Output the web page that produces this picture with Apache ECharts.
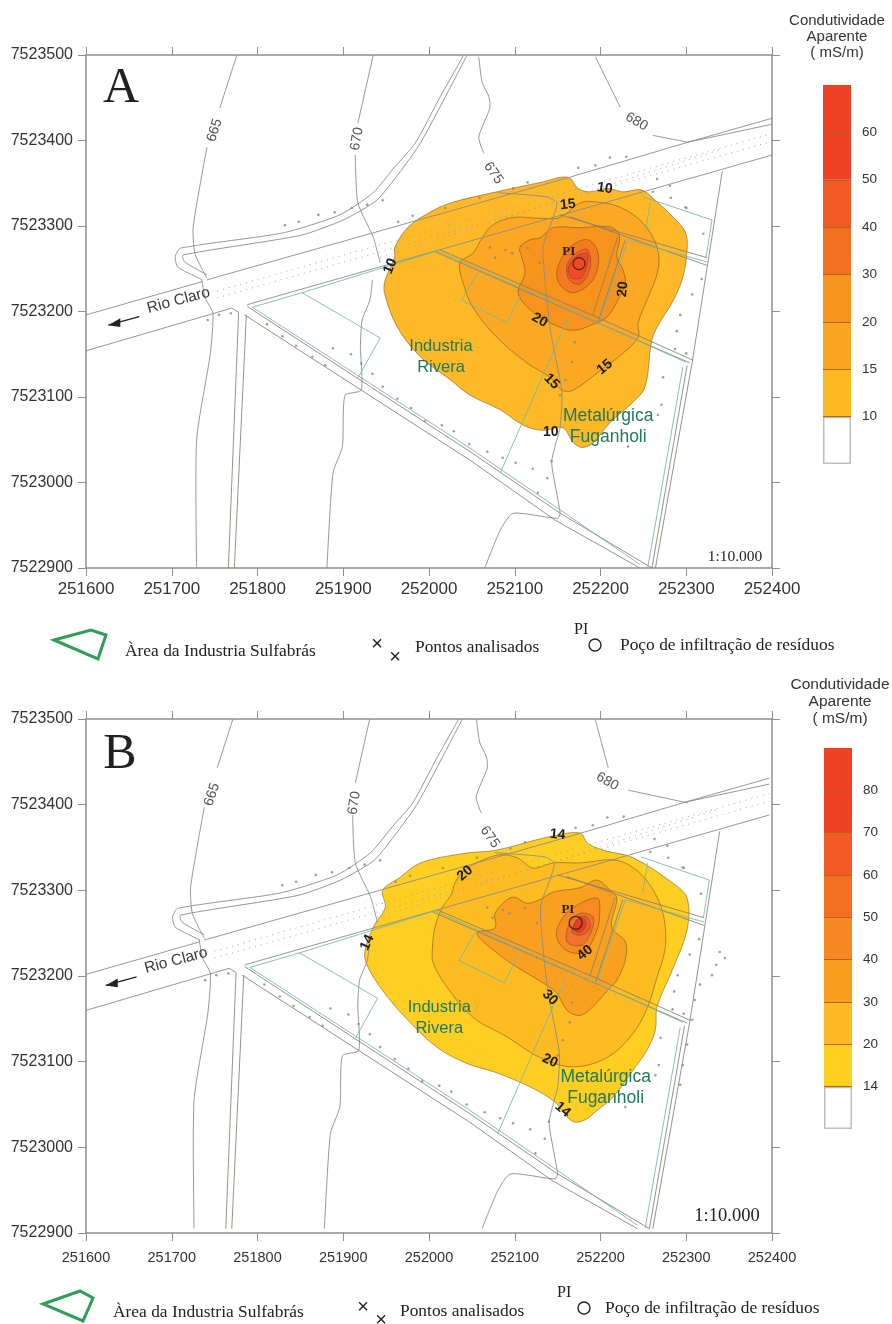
<!DOCTYPE html>
<html><head><meta charset="utf-8">
<style>html,body{margin:0;padding:0;background:#fff}#c{width:892px;height:1324px}</style>
<script src="https://cdn.jsdelivr.net/npm/echarts@6/dist/echarts.min.js"></script>
</head><body><div id="c"></div>
<script>
const xTicks={min:251600,max:252400,interval:100};
const yTicks={min:7522900,max:7523500,interval:100};

// ---- conductivity contours, panel A (UTM metres)
const a10=[[251948,7523222],[251949,7523237],[251960,7523264],[251960,7523275],[251976,7523299],[252001,7523316],[252025,7523327],[252079,7523340],[252130,7523351],[252162,7523357],[252174,7523344],[252188,7523340],[252208,7523344],[252226,7523340],[252248,7523342],[252266,7523328],[252285,7523310],[252299,7523293],[252301,7523272],[252296,7523240],[252285,7523213],[252269,7523187],[252260,7523167],[252252,7523112],[252238,7523094],[252211,7523070],[252191,7523046],[252178,7523041],[252168,7523047],[252156,7523064],[252132,7523061],[252110,7523067],[252083,7523085],[252048,7523102],[252025,7523120],[251990,7523147],[251963,7523182]];
const a15=[[252036,7523257],[252051,7523268],[252062,7523286],[252074,7523301],[252098,7523310],[252129,7523309],[252153,7523310],[252176,7523327],[252196,7523328],[252223,7523322],[252250,7523303],[252266,7523275],[252267,7523248],[252254,7523213],[252244,7523187],[252244,7523170],[252226,7523151],[252196,7523128],[252168,7523108],[252155,7523108],[252141,7523123],[252114,7523140],[252079,7523170],[252051,7523205],[252040,7523233]];
const a20=[[252106,7523275],[252118,7523284],[252129,7523286],[252145,7523298],[252176,7523298],[252211,7523299],[252222,7523289],[252219,7523264],[252226,7523249],[252229,7523233],[252220,7523213],[252208,7523194],[252196,7523187],[252168,7523178],[252141,7523187],[252118,7523202],[252104,7523222],[252112,7523245],[252108,7523264]];
const a30=[[252149,7523245],[252155,7523263],[252168,7523278],[252185,7523284],[252196,7523272],[252197,7523252],[252188,7523233],[252168,7523222],[252153,7523231]];
const a40=[[252161,7523243],[252162,7523257],[252174,7523270],[252185,7523272],[252188,7523252],[252178,7523233],[252167,7523234]];
const a50=[[252162,7523249],[252170,7523263],[252184,7523268],[252185,7523257],[252178,7523240],[252167,7523239]];

// ---- conductivity contours, panel B
const b14=[[251929,7523210],[251925,7523227],[251935,7523257],[251949,7523280],[251946,7523300],[251966,7523315],[251990,7523332],[252040,7523343],[252079,7523347],[252138,7523362],[252176,7523367],[252185,7523355],[252203,7523347],[252238,7523338],[252285,7523308],[252301,7523291],[252301,7523254],[252285,7523210],[252266,7523164],[252264,7523137],[252254,7523113],[252238,7523090],[252215,7523059],[252196,7523043],[252182,7523032],[252168,7523030],[252155,7523043],[252147,7523053],[252121,7523069],[252079,7523087],[252044,7523098],[252009,7523117],[251972,7523152],[251946,7523183]];
const b20=[[252004,7523233],[252007,7523257],[252015,7523279],[252027,7523297],[252030,7523308],[252042,7523324],[252079,7523341],[252103,7523338],[252121,7523326],[252145,7523332],[252176,7523332],[252219,7523335],[252246,7523320],[252266,7523292],[252275,7523262],[252275,7523230],[252266,7523199],[252255,7523164],[252238,7523133],[252208,7523105],[252168,7523094],[252129,7523105],[252091,7523129],[252051,7523152],[252021,7523187],[252005,7523215]];
const b30=[[252056,7523250],[252077,7523256],[252077,7523273],[252091,7523289],[252100,7523292],[252114,7523285],[252129,7523289],[252145,7523298],[252176,7523303],[252196,7523312],[252211,7523300],[252219,7523291],[252213,7523257],[252229,7523240],[252229,7523219],[252219,7523195],[252208,7523183],[252191,7523164],[252176,7523154],[252161,7523160],[252149,7523180],[252133,7523192],[252103,7523210],[252079,7523227]];
const b40=[[252149,7523245],[252150,7523257],[252164,7523277],[252196,7523291],[252199,7523273],[252196,7523254],[252182,7523228],[252168,7523227],[252156,7523233]];
const b50=[[252161,7523240],[252164,7523262],[252176,7523273],[252191,7523269],[252190,7523254],[252178,7523236]];
const b60=[[252167,7523251],[252174,7523268],[252184,7523269],[252188,7523257],[252178,7523248]];
const b70=[[252168,7523257],[252176,7523268],[252182,7523265],[252182,7523256],[252174,7523251]];

// ---- base map: topographic lines
const topo665=[[[251776,7523500],[251756,7523438]],[[251741,7523392],[251725,7523299],[251727,7523268],[251741,7523239]],[[251735,7523237],[251739,7523216],[251748,7523198],[251745,7523151],[251729,7523050],[251729,7522900]]];
const topo670=[[[251935,7523500],[251917,7523420]],[[251914,7523383],[251917,7523327],[251935,7523287],[251943,7523257]],[[251934,7523237],[251931,7523213],[251922,7523190],[251920,7523159],[251921,7523108],[251902,7523102],[251899,7523042],[251888,7523011],[251881,7522900]]];
const topo675=[[[252058,7523498],[252062,7523468],[252070,7523451],[252071,7523438],[252058,7523404],[252064,7523385]],[[252079,7523339],[252138,7523334],[252149,7523327],[252145,7523310],[252133,7523275],[252141,7523182],[252155,7523105],[252153,7523065],[252148,7523046],[252143,7523023],[252153,7522964],[252150,7522958],[252098,7522964],[252083,7522944],[252065,7522900]]];
const topo680A=[[[252194,7523498],[252223,7523439]],[[252261,7523406],[252302,7523398]]];
const topo680B=[[[252194,7523499],[252209,7523443]],[[252232,7523417],[252302,7523402]]];
// ---- base map: roads and river
const roadOuter=[[252040,7523499],[252013,7523451],[251984,7523397],[251960,7523369],[251935,7523339],[251896,7523313],[251830,7523292],[251710,7523274],[251704,7523264],[251707,7523252],[251736,7523237]];
const roadInner=[[252044,7523499],[252019,7523451],[251990,7523397],[251966,7523363],[251939,7523330],[251900,7523307],[251850,7523289],[251713,7523266],[251715,7523258],[251741,7523243]];
const riverBanks=[[[251600,7523196],[251736,7523235]],[[251741,7523237],[252164,7523357],[252302,7523398],[252400,7523426]],[[252302,7523398],[252400,7523419]],[[251600,7523154],[251770,7523204]],[[251788,7523208],[252400,7523383]]];
const streets=[[[251770,7523204],[251778,7523199],[251766,7522900]],[[251787,7523196],[251773,7522900]],[[251788,7523206],[252048,7523036],[252153,7522964],[252260,7522900]],[[251785,7523196],[252048,7523026],[252147,7522956],[252246,7522900]],[[252307,7523141],[252264,7522900]],[[252301,7523137],[252260,7522900]],[[252342,7523364],[252307,7523141]],[[252013,7523272],[252190,7523196],[252308,7523143]],[[252007,7523270],[252196,7523187],[252304,7523140]],[[252153,7523313],[252324,7523263]],[[252164,7523311],[252324,7523254]],[[252220,7523287],[252191,7523196]],[[252229,7523284],[252197,7523187]]];
const canalDots=[[[251753,7523224],[252400,7523408]],[[251753,7523216],[252400,7523399]],[[251943,7523263],[252339,7523389]]];
const lots=[[[252250,7523334],[252330,7523307],[252323,7523263]],[[252258,7523327],[252252,7523292]],[[252057,7523246],[252038,7523213],[252091,7523187],[252106,7523218]],[[252162,7523192],[252083,7523011]],[[251794,7523205],[251852,7523222],[251943,7523169],[251917,7523122]],[[251794,7523205],[252048,7523040],[252246,7522904]],[[252296,7523135],[252255,7522900]],[[252010,7523271],[252299,7523141]],[[252232,7523284],[252199,7523190]],[[252232,7523284],[252324,7523258]],[[251852,7523222],[252010,7523271]]];
const arrowShaft=[[251626,7523184],[251662,7523194]];
const arrowHead=[[251626,7523184],[251640,7523192],[251640,7523182]];

// ---- analysed points
const pontos=[[251832,7523301],[251848,7523305],[251871,7523313],[251890,7523316],[251910,7523321],[251928,7523325],[251946,7523330],[252174,7523368],[252194,7523371],[252211,7523380],[252230,7523381],[251964,7523305],[251981,7523312],[252019,7523321],[252059,7523333],[252098,7523344],[252115,7523351],[252261,7523340],[252281,7523347],[252282,7523333],[252300,7523321],[252266,7523355],[251742,7523190],[251755,7523196],[251769,7523198],[251811,7523185],[251829,7523171],[251845,7523160],[251864,7523147],[251879,7523137],[251888,7523157],[251909,7523150],[251921,7523139],[251934,7523127],[251946,7523112],[251963,7523098],[251979,7523087],[251995,7523072],[252015,7523067],[252029,7523060],[252047,7523045],[252068,7523036],[252086,7523029],[252101,7523023],[252121,7523016],[252138,7523005],[252127,7522988],[252143,7523025],[252273,7523123],[252271,7523091],[252267,7523079],[252232,7523042],[252299,7523322],[252320,7523291],[252318,7523238],[252307,7523220],[252293,7523196],[252289,7523177],[252287,7523156],[252300,7523151],[252115,7523274],[252071,7523275],[252089,7523272],[252097,7523268],[252077,7523263],[252129,7523257],[252170,7523164],[252167,7523141],[252159,7523120],[252153,7523102]];
const pontosExtraB=[[252339,7523228],[252345,7523221],[252335,7523213],[252330,7523201],[252316,7523190],[252310,7523172],[252307,7523149],[252301,7523120],[252296,7523096],[252293,7523073]];
const pocoA=[252175,7523256];
const pocoB=[252171,7523262];

// ---- labels anchored in map coordinates: x, y, text, angle
const mapLabelsA=[[251750,7523412,'665',72],[251916,7523402,'670',80],[252075,7523362,'675',-55],[252242,7523422,'680',-30]];
const mapLabelsB=[[251747,7523412,'665',72],[251913,7523402,'670',80],[252071,7523362,'675',-55],[252208,7523427,'680',-30]];
const condLabelsA=[[251955,7523253,'10',68],[252205,7523344,'10',-8],[252162,7523325,'15',6],[252226,7523226,'20',85],[252129,7523190,'20',-30],[252143,7523118,'15',-45],[252205,7523135,'15',40],[252142,7523059,'10',0]];
const condLabelsB=[[252150,7523365,'14',-5],[252042,7523320,'20',40],[251928,7523239,'14',65],[252182,7523227,'40',40],[252141,7523175,'30',-45],[252141,7523101,'20',-25],[252156,7523044,'14',-40]];
const placesA=[[252014,7523147,'Industria\nRivera'],[252209,7523065,'Metalúrgica\nFuganholi']];
const placesB=[[252012,7523151,'Industria\nRivera'],[252206,7523070,'Metalúrgica\nFuganholi']];
const piLabelA=[252163,7523270,'PI'];
const piLabelB=[252162,7523277,'PI'];
const rioLabelA=[251708,7523213,'Rio Claro',15];

// ---- colour scales
const colorsA=['#FDB927','#FBA925','#F7941E','#F47A22','#F1602A','#EE4A26'];
const colorsB=['#FFCE23','#FDBC22','#F9A021','#F68B21','#F2722A','#EE5A2A','#E63E25'];
const scaleTicksA=['10','15','20','30','40','50','60'];
const scaleTicksB=['14','20','30','40','50','60','70','80'];
const scaleBandsA=['#ffffff','#FDBA20','#FBA621','#F7941E','#F37021','#F15A24','#EF4123','#EF4123'];
const scaleBandsB=['#ffffff','#FFD020','#FDB924','#F99D1E','#F68821','#F37021','#F15A24','#EF4123','#EF4123'];

const MAP_SHIFT_B=[-3,5];
const shift=(pts)=>pts.map(p=>[p[0]+MAP_SHIFT_B[0],p[1]+MAP_SHIFT_B[1]]);
const shiftAll=(ls)=>ls.map(shift);

const GREY='#8c8c8c', TEAL='#6fb8a6', SANS='"Liberation Sans",Arial,sans-serif', SERIF='"Liberation Serif","Times New Roman",serif';

function polyFill(name,idx,shapes,colors){
  return {type:'custom',name,xAxisIndex:idx.x,yAxisIndex:idx.y,silent:true,clip:true,animation:false,
    data:shapes.map((_,i)=>[i]),
    renderItem(params,api){
      const i=params.dataIndex;
      return {type:'polygon',shape:{points:shapes[i].map(p=>api.coord(p)),smooth:0.35},
        style:{fill:colors[i],stroke:'rgba(105,70,25,0.5)',lineWidth:1}};
    }};
}
function polyLines(name,idx,lines,style,smooth){
  return {type:'custom',name,xAxisIndex:idx.x,yAxisIndex:idx.y,silent:true,clip:true,animation:false,
    data:lines.map((_,i)=>[i]),
    renderItem(params,api){
      return {type:'polyline',shape:{points:lines[params.dataIndex].map(p=>api.coord(p)),smooth:smooth||0},
        style:Object.assign({fill:null},style)};
    }};
}
function textLabels(name,idx,rows,font,color,lineHeight){
  return {type:'custom',name,xAxisIndex:idx.x,yAxisIndex:idx.y,silent:true,clip:false,animation:false,
    data:rows.map((_,i)=>[i]),
    renderItem(params,api){
      const r=rows[params.dataIndex], c=api.coord([r[0],r[1]]);
      return {type:'text',x:c[0],y:c[1],rotation:(r[3]||0)*Math.PI/180,
        style:{text:r[2],font:typeof font==='function'?font(r):font,fill:color,align:'center',verticalAlign:'middle',lineHeight:lineHeight||undefined}};
    }};
}
function panelSeries(k){
  const isA=k===0, idx={x:k*2,y:k*2};
  const m=isA?(l=>l):shiftAll;
  const s=[];
  s.push(polyFill('cond',idx,isA?[a10,a15,a20,a30,a40,a50]:[b14,b20,b30,b40,b50,b60,b70],isA?colorsA:colorsB));
  const thin={stroke:GREY,lineWidth:1,opacity:0.9};
  s.push(polyLines('topo',idx,m([...topo665,...topo670,...topo675]),thin,0.2));
  s.push(polyLines('topo680',idx,isA?topo680A:topo680B,thin,0.2));
  s.push(polyLines('roads',idx,m([roadOuter,roadInner]),thin,0.2));
  s.push(polyLines('river',idx,m(riverBanks),thin));
  s.push(polyLines('streets',idx,m(streets),{stroke:'#857f70',lineWidth:1,opacity:0.85}));
  s.push(polyLines('lots',idx,m(lots),{stroke:TEAL,lineWidth:1,opacity:0.85}));
  s.push(polyLines('canal',idx,m(canalDots),{stroke:'#a4a4a4',lineWidth:1,lineDash:[1,5]}));
  s.push(polyLines('arrow',idx,m([arrowShaft]),{stroke:'#222',lineWidth:1.3}));
  s.push({type:'custom',name:'arrowHead',xAxisIndex:idx.x,yAxisIndex:idx.y,silent:true,animation:false,data:[[0]],
    renderItem(p,api){return {type:'polygon',shape:{points:(isA?arrowHead:shift(arrowHead)).map(q=>api.coord(q))},style:{fill:'#222'}};}});
  s.push({type:'scatter',name:'Pontos analisados',xAxisIndex:idx.x,yAxisIndex:idx.y,silent:true,animation:false,symbolSize:2.6,
    itemStyle:{color:'#8a8a80'},data:isA?pontos:shift(pontos).concat(pontosExtraB)});
  s.push({type:'scatter',name:'Poço',xAxisIndex:idx.x,yAxisIndex:idx.y,silent:true,animation:false,symbolSize:isA?12:13,
    itemStyle:{color:'rgba(0,0,0,0)',borderColor:'#2a1a10',borderWidth:1.3},data:[isA?pocoA:pocoB]});
  const rio=isA?rioLabelA:[rioLabelA[0]-3,rioLabelA[1]+5,rioLabelA[2],rioLabelA[3]];
  s.push(textLabels('rio',idx,[rio],'15.5px '+SANS,'#3a3a3a'));
  s.push(textLabels('topoLabels',idx,isA?mapLabelsA:mapLabelsB,'14px '+SANS,'#555'));
  s.push(textLabels('condLabels',idx,isA?condLabelsA:condLabelsB,'bold 14px '+SANS,'#1c1c1c'));
  s.push(textLabels('places',idx,isA?placesA:placesB,r=>(r[2].startsWith('Metal')?'17.5px ':'16.5px ')+SANS,'#1d7a5d',21));
  s.push(textLabels('pi',idx,[isA?piLabelA:piLabelB],'bold 13px '+SERIF,'#2a1a10'));
  return s;
}
function mapAxes(k,fontX,fontY,marginX,marginY){
  const sharedLine={lineStyle:{color:'#8f8f8f',width:1.5}};
  const tick={show:true,length:8,lineStyle:{color:'#8f8f8f',width:1}};
  const x=Object.assign({gridIndex:k,type:'value',splitLine:{show:false},axisLine:Object.assign({onZero:false},sharedLine),axisTick:tick},xTicks);
  const y=Object.assign({gridIndex:k,type:'value',splitLine:{show:false},axisLine:Object.assign({onZero:false},sharedLine),axisTick:tick},yTicks);
  return {
    xAxis:[Object.assign({},x,{position:'bottom',axisLabel:{show:true,color:'#333',fontFamily:SANS,fontSize:fontX,margin:marginX,formatter:v=>String(v)}}),
           Object.assign({},x,{position:'top',axisLabel:{show:false}})],
    yAxis:[Object.assign({},y,{position:'left',axisLabel:{show:true,color:'#333',fontFamily:SANS,fontSize:fontY,margin:marginY,formatter:v=>String(v)}}),
           Object.assign({},y,{position:'right',axisLabel:{show:false}})]
  };
}
const A=mapAxes(0,17,16,13,13), B=mapAxes(1,14.5,16,17,13);
const grids=[
  {left:86,width:686,top:55,height:513},
  {left:86,width:686,top:719,height:514},
  {left:823,width:28,top:85,height:379},
  {left:824,width:28,top:748,height:381}
];
function scaleAxes(k,ticks){
  const n=ticks.length+1, vals=ticks.map((_,i)=>i+1);
  return {
    x:{gridIndex:k,type:'category',data:['escala'],show:false},
    y:{gridIndex:k,type:'value',min:0,max:n,interval:1,position:'right',z:6,splitLine:{show:false},axisLine:{show:false},
       axisTick:{show:true,inside:true,length:28,customValues:vals,lineStyle:{color:'#b5621c',width:1}},
       axisLabel:{show:true,customValues:vals,margin:11,color:'#333',fontFamily:SANS,fontSize:13.5,formatter:v=>ticks[Math.round(v)-1]}}
  };
}
const sA=scaleAxes(2,scaleTicksA), sB=scaleAxes(3,scaleTicksB);
const xAxes=[A.xAxis[0],A.xAxis[1],B.xAxis[0],B.xAxis[1],sA.x,sB.x];
const yAxes=[A.yAxis[0],A.yAxis[1],B.yAxis[0],B.yAxis[1],sA.y,sB.y];
function scaleSeriesAt(axisIdx,bands){
  return bands.map((c,i)=>({type:'bar',name:'faixa'+axisIdx+i,stack:'s'+axisIdx,xAxisIndex:axisIdx,yAxisIndex:axisIdx,silent:true,animation:false,barWidth:'100%',
    data:[1],itemStyle:{color:c,borderColor:i===0?'#bdbdbd':c,borderWidth:i===0?1.5:0}}));
}
function T(x,y,text,font,fill,align){return {type:'text',x,y,silent:true,style:{text,font,fill:fill||'#222',align:align||'left',verticalAlign:'middle'}};}
function legendRow(o){
  return [
    {type:'polygon',silent:true,shape:{points:o.poly},style:{fill:null,stroke:'#2f9e57',lineWidth:3}},
    T(o.areaX,o.areaY,'Àrea da Industria Sulfabrás','17.4px '+SERIF),
    T(o.x1[0],o.x1[1],'×','20px '+SANS,'#222','center'),
    T(o.x2[0],o.x2[1],'×','20px '+SANS,'#222','center'),
    T(o.pontX,o.pontY,'Pontos analisados','17.4px '+SERIF),
    T(o.piX,o.piY,'PI','16px '+SERIF),
    {type:'circle',silent:true,shape:{cx:o.circ[0],cy:o.circ[1],r:6},style:{fill:null,stroke:'#222',lineWidth:1.4}},
    T(o.pocoX,o.pocoY,'Poço de infiltração de resíduos','17.4px '+SERIF)
  ];
}
const graphics=[
  T(121,89,'A','50px '+SERIF,'#222','center'),
  T(120,755,'B','50px '+SERIF,'#222','center'),
  T(735,557,'1:10.000','15.5px '+SERIF,'#222','center'),
  T(727,1216,'1:10.000','18.5px '+SERIF,'#222','center'),
  T(837,21,'Condutividade','15px '+SANS,'#333','center'),
  T(837,37,'Aparente','15px '+SANS,'#333','center'),
  T(837,53,'( mS/m)','15px '+SANS,'#333','center'),
  T(840,685,'Condutividade','15.5px '+SANS,'#333','center'),
  T(840,702,'Aparente','15.5px '+SANS,'#333','center'),
  T(840,719,'( mS/m)','15.5px '+SANS,'#333','center'),
  ...legendRow({poly:[[54,640],[91,630],[106,635],[98,659]],areaX:125,areaY:651,x1:[377,644],x2:[395,657],pontX:415,pontY:647,piX:574,piY:630,circ:[595,645],pocoX:620,pocoY:645}),
  ...legendRow({poly:[[43,1304],[80,1291],[93,1298],[83,1321]],areaX:113,areaY:1312,x1:[363,1307],x2:[381,1320],pontX:400,pontY:1311,piX:557,piY:1293,circ:[584,1308],pocoX:605,pocoY:1308})
];
const chart=echarts.init(document.getElementById('c'),null,{renderer:'canvas'});
chart.setOption({
  animation:false,backgroundColor:'#fff',
  grid:grids,xAxis:xAxes,yAxis:yAxes,
  graphic:{elements:graphics},
  series:[...panelSeries(0),...panelSeries(1),...scaleSeriesAt(4,scaleBandsA),...scaleSeriesAt(5,scaleBandsB)]
});
</script></body></html>
